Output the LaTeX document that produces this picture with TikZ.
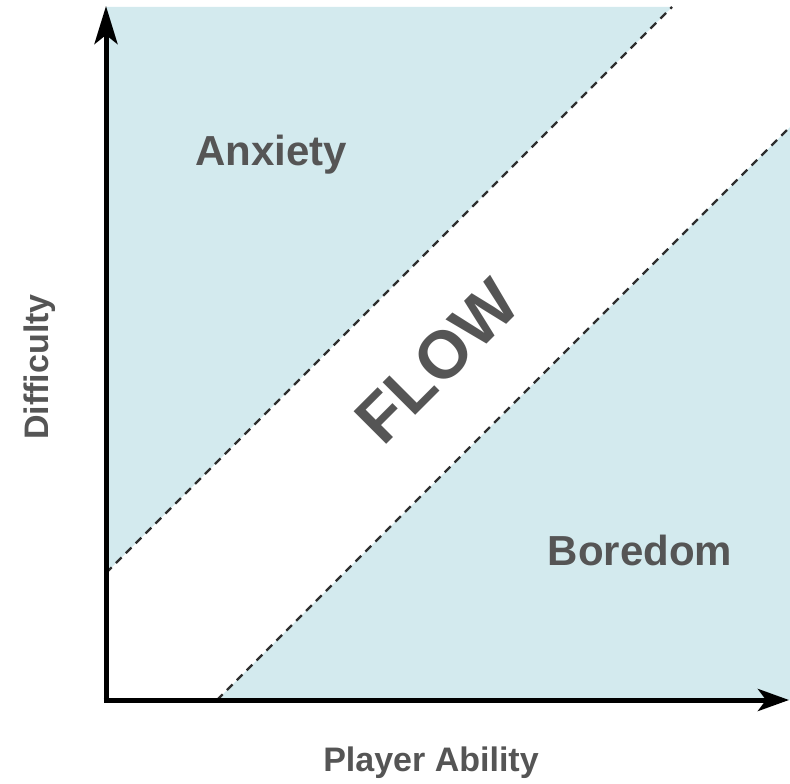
\documentclass[tikz,border=0pt]{standalone}
\usepackage{fontspec}
\setmainfont{Liberation Sans}
\usetikzlibrary{arrows.meta}
\definecolor{zonefill}{HTML}{D3EAEE}
\definecolor{labelgray}{HTML}{555555}
\definecolor{dashgray}{HTML}{2E2E2E}
\tikzset{
  zone/.style={fill=zonefill, draw=none},
  boundary/.style={draw=dashgray, line width=2.2pt, dash pattern=on 8pt off 6pt},
  axisline/.style={draw=black, line width=5pt},
  zonelabel/.style={text=labelgray, font=\fontsize{42}{50}\selectfont\bfseries, inner sep=0pt, anchor=base},
  axislabel/.style={text=labelgray, font=\fontsize{34}{40}\selectfont\bfseries, inner sep=0pt, anchor=base},
  flowlabel/.style={text=labelgray, font=\fontsize{67}{80}\selectfont\bfseries, inner sep=0pt, rotate=45},
}
\begin{document}
\begin{tikzpicture}[x=1pt, y=-1pt]
  \useasboundingbox (0,0) rectangle (790,784);

  % corners of the chart area
  \coordinate (O) at (106,700);
  \coordinate (Ytop) at (106,6);
  \coordinate (Xend) at (789,700);

  % channel boundaries (45 degree lines)
  \coordinate (UpA) at (106,573);
  \coordinate (UpB) at (672,7);
  \coordinate (LoA) at (217,700);
  \coordinate (LoB) at (790,127);

  % shaded zones
  \fill[zone] (UpA) -- (106,7) -- (UpB) -- cycle;
  \fill[zone] (LoA) -- (790,700) -- (LoB) -- cycle;

  % dashed boundaries
  \draw[boundary] (UpA) -- (UpB);
  \draw[boundary] (LoA) -- (LoB);

  % axes
  \draw[axisline, -{Stealth[length=38pt, width=23pt, inset=9pt]}] (O) -- (Ytop);
  \draw[axisline, -{Stealth[length=31pt, width=22pt, inset=8pt]}] ([xshift=-2.5pt]O) -- (Xend);

  % labels
  \node[zonelabel] (anxiety) at (271,165) {Anxiety};
  \node[zonelabel] (boredom) at (640,565) {Boredom};
  \node[flowlabel] (flow) at (437,361) {FLOW};
  \node[axislabel, rotate=90] (difficulty) at (48,367) {Difficulty};
  \node[axislabel] (ability) at (431,771) {Player Ability};
\end{tikzpicture}
\end{document}
